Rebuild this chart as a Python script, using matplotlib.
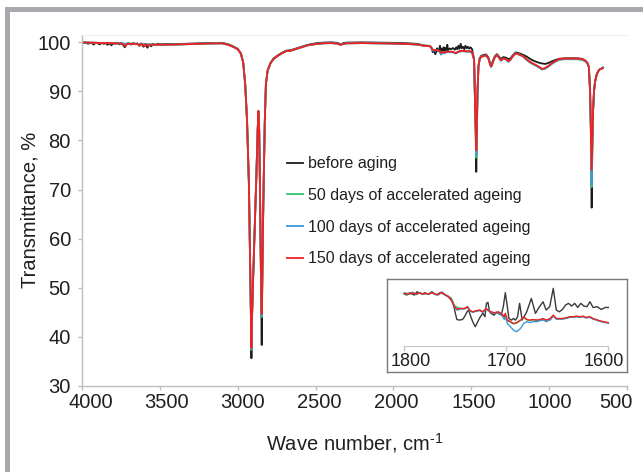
import matplotlib
matplotlib.use('Agg')
import matplotlib.pyplot as plt
from matplotlib.patches import Rectangle
from matplotlib.transforms import ScaledTranslation

plt.rcParams['font.family'] = ['Liberation Sans', 'DejaVu Sans']
plt.rcParams['mathtext.fontset'] = 'custom'
plt.rcParams['mathtext.rm'] = 'Liberation Sans'

# ---------------- data ----------------
series_labels = ['before aging', '50 days of accelerated ageing',
                 '100 days of accelerated ageing', '150 days of accelerated ageing']
x_ticks = [4000, 3500, 3000, 2500, 2000, 1500, 1000, 500]
y_ticks = [30, 40, 50, 60, 70, 80, 90, 100]
inset_ticks = [1800, 1700, 1600]

wn_black = [4000, 3985, 3975, 3960, 3950, 3935, 3925, 3915, 3900, 3885, 3875, 3860, 3850, 3835,
            3825, 3810, 3800, 3785, 3775, 3760, 3750, 3735, 3725, 3715, 3700, 3685, 3670, 3655,
            3645, 3630, 3620, 3605, 3595, 3580, 3570, 3555, 3545, 3530, 3515, 3500, 3450, 3400,
            3300, 3200, 3100, 3060, 3030, 3000, 2980, 2965, 2952, 2940, 2928, 2920, 2915, 2912,
            2909, 2900, 2890, 2880, 2872, 2867, 2862, 2857, 2852, 2848, 2846, 2843, 2838, 2833,
            2826, 2819, 2808, 2790, 2770, 2750, 2720, 2690, 2660, 2630, 2600, 2550, 2500, 2450,
            2400, 2360, 2340, 2320, 2300, 2200, 2100, 2000, 1900, 1850, 1800, 1770, 1760, 1752,
            1748, 1742, 1737, 1731, 1725, 1719, 1715, 1708, 1701, 1697, 1692, 1687, 1684, 1676,
            1671, 1664, 1660, 1654, 1650, 1640, 1630, 1618, 1605, 1597, 1590, 1583, 1576, 1568,
            1562, 1553, 1545, 1538, 1530, 1522, 1514, 1505, 1495, 1482, 1476, 1471, 1468, 1465,
            1460, 1454, 1446, 1435, 1420, 1405, 1390, 1378, 1372, 1362, 1350, 1335, 1322, 1310,
            1295, 1280, 1262, 1250, 1235, 1215, 1195, 1170, 1150, 1130, 1110, 1080, 1060, 1045,
            1025, 1005, 985, 960, 935, 900, 860, 820, 790, 770, 755, 745, 737, 731, 727, 723,
            718, 712, 705, 695, 685, 675, 665, 655]
t_black = [100.0, 99.85, 99.95, 99.7, 99.9, 99.8, 99.55, 99.9, 99.8, 99.6, 99.9, 99.7, 99.85, 99.5,
           99.8, 99.4, 99.85, 99.7, 99.9, 99.6, 99.85, 99.5, 99.0, 99.7, 99.8, 99.55, 99.85, 99.6,
           99.8, 99.3, 99.8, 99.1, 99.7, 98.9, 99.6, 99.2, 99.7, 99.4, 99.7, 99.6, 99.65, 99.65,
           99.75, 99.85, 99.9, 99.6, 99.2, 98.7, 97.8, 96.0, 91.5, 84.0, 71.0, 54.5, 43.5, 35.6,
           42.5, 53.0, 63.0, 73.0, 82.0, 86.0, 82.0, 70.0, 56.0, 46.5, 38.3, 48.5, 62.0, 72.0,
           84.0, 91.5, 94.3, 95.8, 96.7, 97.2, 97.8, 98.3, 98.4, 98.7, 99.0, 99.5, 99.8, 99.95,
           100.0, 99.9, 99.6, 99.85, 99.95, 100.0, 99.95, 99.9, 99.8, 99.7, 99.35, 99.3, 99.1, 98.7,
           98.0, 98.1, 98.45, 97.6, 98.1, 98.8, 98.25, 98.2, 99.3, 98.0, 97.95, 98.8, 97.9, 99.0,
           98.25, 98.85, 98.45, 99.5, 98.4, 98.75, 98.6, 98.85, 98.5, 99.0, 98.6, 99.3, 98.7, 99.7,
           98.8, 99.1, 98.6, 99.3, 98.8, 99.1, 98.7, 99.0, 98.6, 96.5, 88.0, 80.0, 73.6, 80.0,
           90.0, 95.2, 96.8, 97.3, 97.4, 97.55, 96.9, 95.6, 95.3, 96.1, 97.1, 97.6, 97.1, 96.6,
           97.0, 96.9, 96.6, 96.7, 97.3, 97.95, 97.8, 97.5, 97.2, 96.8, 96.4, 96.0, 95.8, 95.7,
           95.6, 95.8, 96.1, 96.4, 96.65, 96.75, 96.75, 96.75, 96.65, 96.35, 95.85, 95.0, 90.0, 80.0, 66.3, 78.0,
           86.0, 90.0, 92.0, 93.4, 94.1, 94.5, 94.6, 94.8]

wn_aged = [4000, 3950, 3900, 3850, 3800, 3750, 3730, 3720, 3710, 3650, 3630, 3615, 3600, 3590,
           3575, 3560, 3500, 3400, 3300, 3200, 3100, 3060, 3030, 3000, 2980, 2965, 2952, 2940,
           2928, 2920, 2915, 2912, 2909, 2900, 2890, 2880, 2872, 2867, 2862, 2857, 2852, 2848,
           2846, 2843, 2838, 2833, 2826, 2819, 2808, 2790, 2770, 2750, 2720, 2690, 2660, 2630,
           2600, 2550, 2500, 2450, 2400, 2360, 2340, 2320, 2300, 2200, 2100, 2000, 1900, 1850,
           1800, 1770, 1760, 1752, 1745, 1735, 1720, 1705, 1695, 1685, 1670, 1655, 1640, 1620,
           1600, 1585, 1570, 1550, 1530, 1510, 1495, 1482, 1476, 1471, 1468, 1465, 1460, 1454,
           1446, 1435, 1420, 1405, 1390, 1378, 1372, 1362, 1350, 1335, 1322, 1310, 1295, 1280,
           1262, 1250, 1235, 1215, 1195, 1170, 1150, 1130, 1110, 1080, 1060, 1045, 1025, 1005,
           985, 960, 935, 900, 860, 820, 790, 770, 755, 745, 737, 731, 727, 723, 718, 712,
           705, 695, 685, 675, 665, 655]
t_150 = [100.0, 99.95, 99.9, 99.85, 99.8, 99.8, 99.45, 99.2, 99.7, 99.7, 99.4, 99.7, 99.2, 99.6,
         99.3, 99.55, 99.5, 99.55, 99.65, 99.75, 99.8, 99.5, 99.1, 98.6, 97.7, 95.9, 91.5, 84.0,
         71.0, 54.5, 44.5, 37.7, 43.5, 53.0, 63.0, 73.0, 82.0, 86.0, 82.0, 70.0, 56.0, 48.5,
         44.6, 50.0, 62.0, 72.0, 84.0, 91.5, 94.2, 95.7, 96.6, 97.1, 97.7, 98.2, 98.3, 98.6,
         98.9, 99.4, 99.65, 99.8, 99.85, 99.75, 99.5, 99.7, 99.8, 99.85, 99.8, 99.75, 99.65, 99.55,
         99.3, 99.25, 99.1, 98.6, 98.5, 98.4, 98.45, 98.25, 97.85, 98.0, 97.95, 98.1, 98.1, 98.1,
         97.8, 98.1, 98.25, 98.3, 98.2, 98.2, 98.0, 96.5, 88.0, 82.0, 78.0, 82.0, 90.0, 95.0,
         96.6, 97.1, 97.2, 97.35, 96.7, 95.4, 95.1, 95.9, 96.9, 97.4, 96.9, 96.3, 96.7, 96.6,
         96.2, 96.4, 97.1, 97.75, 97.55, 97.2, 96.7, 96.2, 95.8, 95.3, 94.9, 94.6, 94.8, 95.2,
         95.7, 96.2, 96.6, 96.7, 96.7, 96.7, 96.6, 96.3, 95.8, 95.0, 90.0, 81.0, 74.0, 79.0, 86.0, 90.0,
         92.0, 93.4, 94.1, 94.5, 94.6, 94.8]
t_50 = [100.0, 99.95, 99.9, 99.85, 99.8, 99.8, 99.75, 99.7, 99.75, 99.7, 99.65, 99.65, 99.6, 99.6,
        99.6, 99.55, 99.5, 99.55, 99.65, 99.75, 99.8, 99.5, 99.1, 98.6, 97.7, 95.9, 91.5, 84.0,
        71.0, 54.5, 44.0, 37.3, 43.0, 53.0, 63.0, 73.0, 82.0, 86.0, 82.0, 70.0, 56.0, 48.0,
        44.0, 49.5, 62.0, 72.0, 84.0, 91.5, 94.2, 95.7, 96.6, 97.1, 97.7, 98.2, 98.3, 98.6,
        98.9, 99.4, 99.65, 99.8, 99.85, 99.75, 99.5, 99.7, 99.8, 99.85, 99.8, 99.75, 99.65, 99.55,
        99.3, 99.25, 99.1, 98.7, 98.5, 98.4, 98.45, 98.25, 97.9, 98.0, 97.95, 98.05, 98.05, 98.05,
        97.75, 98.05, 98.2, 98.2, 98.15, 98.15, 97.95, 96.5, 88.0, 82.0, 76.5, 82.0, 90.0, 95.0,
        96.6, 97.1, 97.2, 97.35, 96.7, 95.4, 95.0, 95.9, 96.9, 97.4, 96.9, 96.3, 96.7, 96.6,
        96.1, 96.4, 97.1, 97.75, 97.55, 97.2, 96.6, 96.05, 95.65, 95.15, 94.75, 94.45, 94.65, 95.05,
        95.55, 96.05, 96.45, 96.55, 96.55, 96.55, 96.45, 96.2, 95.8, 95.0, 90.0, 81.0, 70.5, 78.5, 86.0, 90.0,
        92.0, 93.4, 94.1, 94.5, 94.6, 94.9]
t_100 = [100.0, 99.95, 99.9, 99.85, 99.8, 99.8, 99.75, 99.6, 99.75, 99.7, 99.6, 99.65, 99.5, 99.6,
         99.55, 99.55, 99.5, 99.55, 99.65, 99.75, 99.8, 99.5, 99.1, 98.6, 97.7, 95.9, 91.5, 84.0,
         71.0, 54.5, 44.0, 37.5, 43.0, 53.0, 63.0, 73.0, 82.0, 86.0, 82.0, 70.0, 56.0, 48.0,
         44.3, 49.5, 62.0, 72.0, 84.0, 91.5, 94.2, 95.7, 96.6, 97.1, 97.7, 98.2, 98.3, 98.6,
         98.9, 99.4, 99.65, 99.8, 99.85, 99.75, 99.5, 99.7, 99.8, 99.85, 99.8, 99.75, 99.65, 99.55,
         99.3, 99.25, 99.05, 98.5, 98.3, 98.3, 98.4, 98.1, 97.5, 97.75, 97.85, 98.0, 98.0, 98.0,
         97.75, 98.0, 98.15, 98.2, 98.1, 98.1, 97.9, 96.5, 88.0, 82.0, 77.0, 82.0, 90.0, 95.0,
         96.6, 97.1, 97.2, 97.35, 96.7, 95.4, 95.0, 95.9, 96.9, 97.4, 96.9, 96.3, 96.7, 96.6,
         96.0, 96.4, 97.1, 97.75, 97.55, 97.2, 96.6, 96.1, 95.7, 95.2, 94.8, 94.5, 94.7, 95.1,
         95.6, 96.1, 96.5, 96.6, 96.6, 96.6, 96.5, 96.2, 95.8, 95.0, 90.0, 81.0, 71.0, 78.5, 86.0, 90.0,
         92.0, 93.4, 94.1, 94.5, 94.6, 94.9]

# inset (1800-1600 cm-1)
wn_inset_black = [1800, 1797.5, 1795, 1792.5, 1790, 1787.5, 1785, 1782.5, 1780, 1777.5, 1775, 1773,
                  1770, 1768, 1765, 1763, 1760, 1757.5, 1754, 1752, 1750, 1748.5, 1746, 1743, 1741,
                  1738.5, 1737, 1735, 1733, 1730.5, 1728, 1725.5, 1723, 1721, 1719.5, 1718, 1716.5,
                  1715, 1712, 1710, 1708, 1705, 1703, 1701, 1699, 1697.5, 1695, 1693, 1691, 1689,
                  1687, 1684.5, 1680, 1675.5, 1671.5, 1668, 1664, 1661, 1657.5, 1654, 1651, 1648,
                  1645, 1642, 1639, 1636, 1633, 1630, 1627, 1624, 1621, 1618, 1615, 1611, 1607,
                  1603, 1600]
v_inset_black = [99.24, 99.19, 99.31, 99.24, 99.19, 99.36, 99.28, 99.24, 99.31, 99.24, 99.28, 99.36,
                 99.24, 99.21, 99.31, 99.34, 99.19, 99.14, 99.02, 98.77, 98.26, 97.95, 97.92, 97.95, 98.09,
                 98.34, 98.43, 98.12, 97.84, 97.58, 97.84, 98.09, 98.26, 98.09, 98.77, 98.82, 98.34,
                 98.26, 98.17, 98.29, 98.26, 98.17, 98.60, 99.31, 98.60, 98.00, 97.92, 98.00, 97.92, 98.09,
                 98.77, 97.92, 98.34, 99.02, 98.26, 98.56, 98.85, 98.43, 98.60, 99.53, 98.43, 98.34,
                 98.46, 98.68, 98.77, 98.63, 98.77, 98.56, 98.77, 98.63, 98.60, 98.85, 98.56, 98.60, 98.46,
                 98.56, 98.56]
wn_inset_aged = [1800, 1796, 1792, 1788, 1785, 1782, 1779, 1776, 1773, 1770, 1767, 1764, 1761, 1757,
                 1754, 1751, 1748, 1746, 1743, 1741, 1738, 1736, 1733, 1730, 1726, 1723, 1720, 1718,
                 1715, 1712, 1708, 1705, 1702, 1701, 1699, 1696, 1693, 1690, 1686, 1683, 1680, 1677,
                 1674, 1670, 1667, 1664, 1661, 1657, 1654, 1651, 1648, 1645, 1641, 1638, 1635, 1631,
                 1628, 1625, 1622, 1618, 1615, 1612, 1609, 1605, 1600]
v_inset_150 = [99.28, 99.24, 99.31, 99.24, 99.31, 99.24, 99.28, 99.24, 99.31, 99.24, 99.21, 99.31, 99.24, 99.11,
               98.94, 98.60, 98.46, 98.51, 98.51, 98.51, 98.60, 98.43, 98.34, 98.39, 98.43, 98.34, 98.51, 98.43,
               98.34, 98.29, 98.34, 98.26, 98.09, 98.26, 97.92, 97.84, 97.75, 97.79, 97.92, 98.09, 97.95, 97.92,
               97.95, 97.92, 97.95, 98.00, 97.92, 98.00, 98.17, 98.00, 98.00, 98.00, 98.04, 98.09, 98.09, 98.12,
               98.09, 98.12, 98.06, 98.09, 98.00, 97.95, 97.89, 97.84, 97.79]
v_inset_50 = [99.26, 99.22, 99.30, 99.23, 99.30, 99.23, 99.27, 99.23, 99.30, 99.23, 99.20, 99.30, 99.23, 99.14,
              98.98, 98.68, 98.56, 98.52, 98.50, 98.50, 98.58, 98.42, 98.33, 98.38, 98.42, 98.33, 98.50, 98.42,
              98.33, 98.28, 98.33, 98.25, 98.07, 98.22, 97.90, 97.81, 97.72, 97.76, 97.90, 98.07, 97.93, 97.90,
              97.93, 97.90, 97.93, 97.98, 97.90, 97.98, 98.15, 97.98, 97.98, 97.98, 98.02, 98.07, 98.07, 98.10,
              98.07, 98.10, 98.04, 98.07, 97.98, 97.93, 97.87, 97.82, 97.77]
v_inset_100 = [99.30, 99.26, 99.33, 99.22, 99.32, 99.25, 99.26, 99.25, 99.33, 99.22, 99.20, 99.32, 99.22, 99.10,
               98.92, 98.58, 98.42, 98.48, 98.49, 98.49, 98.57, 98.40, 98.31, 98.36, 98.40, 98.31, 98.48, 98.40,
               98.31, 98.26, 98.30, 98.20, 97.95, 98.10, 97.75, 97.58, 97.41, 97.33, 97.50, 97.75, 97.84, 97.79,
               97.84, 97.84, 97.89, 97.92, 97.84, 97.92, 98.12, 97.97, 97.97, 97.97, 98.01, 98.06, 98.06, 98.09,
               98.06, 98.09, 98.03, 98.06, 97.97, 97.93, 97.87, 97.82, 97.77]

# ---------------- styles ----------------
C_BLACK = '#1c1c1c'
C_GREEN = '#2fc46e'
C_BLUE = '#3d9ad8'
C_RED = '#f41f1f'
TXT = '#231f20'
AX_GRAY = '#bdbdbd'

W, H = 643, 472
fig = plt.figure(figsize=(W / 100, H / 100), dpi=100)


def fx(px):
    return px / W


def fy(py):
    return 1 - py / H


# gray frame of the figure (left and top bars)
fig.patches.append(Rectangle((fx(5), 0), fx(10) - fx(5), fy(7), transform=fig.transFigure,
                             facecolor='#a9a9ad', edgecolor='none', zorder=0))
fig.patches.append(Rectangle((fx(5), fy(12)), 1 - fx(5), fy(7) - fy(12), transform=fig.transFigure,
                             facecolor='#a9a9ad', edgecolor='none', zorder=0))

ax = fig.add_axes([fx(82), fy(385.7), (627 - 82) / W, (385.7 - 35) / H])
ax.set_facecolor('white')
lw = 1.3
ax.plot(wn_black, t_black, color=C_BLACK, lw=lw, label=series_labels[0])
ax.plot(wn_aged, t_50, color=C_GREEN, lw=lw, label=series_labels[1])
ax.plot(wn_aged, t_100, color=C_BLUE, lw=lw, label=series_labels[2])
ax.plot(wn_aged, t_150, color=C_RED, lw=lw, label=series_labels[3])

ax.set_xlim(4000, 500)
ax.set_ylim(30, 101.5)
ax.set_xticks(x_ticks)
ax.set_xticklabels([str(v) for v in x_ticks])
ax.set_yticks(y_ticks)
ax.set_yticklabels([str(v) for v in y_ticks])
ax.tick_params(axis='x', direction='out', length=3, width=1, color=AX_GRAY, pad=2,
               labelsize=14.5, labelcolor=TXT)
ax.tick_params(axis='y', direction='out', length=3, width=1, color=AX_GRAY, pad=5,
               labelsize=14.5, labelcolor=TXT)
for s in ('left', 'bottom'):
    ax.spines[s].set_color(AX_GRAY)
    ax.spines[s].set_linewidth(1)
ax.spines['top'].set_color('#f0f0f0')
ax.spines['right'].set_visible(False)

ax.set_xlabel('Wave number, cm$^{\\text{-1}}$', fontsize=14.5, color=TXT)
ax.xaxis.label.set_va('center')
ax.xaxis.set_label_coords(0.5, (385.7 - 443) / 350.7)
ax.set_ylabel('Transmittance, %', fontsize=14.5, color=TXT)
ax.yaxis.label.set_va('center')
ax.yaxis.set_label_coords((30 - 82) / 545, 0.5)

ax.legend(loc='center left', bbox_to_anchor=(fx(287), fy(211.3)), bbox_transform=fig.transFigure,
          frameon=False, fontsize=11.5, handlelength=1.0, handletextpad=0.3, labelspacing=1.05,
          borderpad=0, borderaxespad=0, labelcolor=TXT)

# ---------------- inset ----------------
ax_in = fig.add_axes([fx(386.7), fy(371.7), (626.7 - 386.7) / W, (371.7 - 279.3) / H])
ax_in.set_facecolor('white')
lwi = 1.0
ax_in.plot(wn_inset_black, v_inset_black, color='#3a3a3a', lw=lwi)
ax_in.plot(wn_inset_aged, v_inset_50, color=C_GREEN, lw=lwi)
ax_in.plot(wn_inset_aged, v_inset_100, color=C_BLUE, lw=lwi)
ax_in.plot(wn_inset_aged, v_inset_150, color=C_RED, lw=lwi)
ax_in.set_xlim(1817.3, 1582.0)
ax_in.set_ylim(95.3, 99.99)
ax_in.tick_params(left=False, bottom=False, labelleft=False, labelbottom=False)
for s in ax_in.spines.values():
    s.set_color('#7a7a7a')
    s.set_linewidth(1.0)

secax = ax_in.secondary_xaxis(0.278)
secax.set_xticks(inset_ticks)
secax.set_xticklabels([str(v) for v in inset_ticks])
secax.spines['bottom'].set_bounds(1800, 1600)
secax.spines['bottom'].set_color('#c8c8c8')
secax.tick_params(axis='x', direction='out', length=3.5, width=1, color='#c8c8c8', pad=1.5,
                  labelsize=13, labelcolor=TXT)

# small Excel-like horizontal nudges of the tick labels (pixels)
fig.canvas.draw()
main_offsets = [9, 7, 5, 4, 3, 2, 1, -11]
for lab, dx in zip(ax.get_xticklabels(), main_offsets):
    lab.set_transform(lab.get_transform() + ScaledTranslation(dx / 100, 0, fig.dpi_scale_trans))
inset_offsets = [6, 0, -4.5]
for lab, dx in zip(secax.get_xticklabels(), inset_offsets):
    lab.set_transform(lab.get_transform() + ScaledTranslation(dx / 100, 0, fig.dpi_scale_trans))

fig.savefig('out.png', dpi=100, facecolor='white')
